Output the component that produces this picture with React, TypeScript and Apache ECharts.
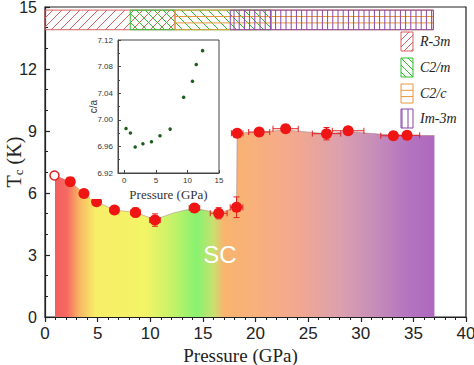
import React, { useEffect, useRef } from "react";
import * as echarts from "echarts";

// ---------------- data ----------------
const pressure = [2.4, 3.7, 4.9, 6.6, 8.6, 10.45, 14.2, 16.5, 18.2, 18.26, 20.35, 22.86, 26.75, 28.8, 33.1, 34.4];
const tc = [6.55, 5.98, 5.58, 5.18, 5.06, 4.69, 5.27, 5.02, 5.31, 8.89, 8.95, 9.11, 8.87, 9.01, 8.77, 8.79];
const pressureErr = [0.3, 0.3, 0.3, 0.4, 0.45, 0.5, 0.5, 0.8, 0.6, 0.55, 1.0, 1.2, 1.35, 1.5, 1.2, 1.2];
const tcErr = [0.1, 0.1, 0.1, 0.1, 0.22, 0.3, 0.2, 0.27, 0.5, 0.1, 0.1, 0.1, 0.3, 0.1, 0.1, 0.1];
const openPressure = [0.9];
const openTc = [6.85];

// superconducting region outline
const scEdgeP = [0.95, 2.4, 3.7, 4.9, 6.6, 8.6, 10.45, 12.3, 14.2, 16.5, 18.2, 18.25, 20.35, 22.86, 26.75, 28.8, 33.1, 34.4, 37];
const scEdgeTc = [6.85, 6.55, 5.98, 5.58, 5.18, 5.06, 4.72, 5.05, 5.27, 5.02, 5.31, 8.9, 8.95, 9.05, 8.87, 8.97, 8.8, 8.8, 8.78];

// structural phases
const phaseNames = ["R-3m", "C2/m", "C2/c", "Im-3m"];
const phaseStart = [0, 8.1, 12.35, 17.6];
const phaseEnd = [12.35, 21.5, 36.9, 36.9];

// inset c/a
const insetP = [0.27, 0.97, 1.72, 2.95, 4.3, 5.65, 7.26, 9.4, 10.8, 11.4, 12.4];
const insetCA = [6.987, 6.98, 6.959, 6.964, 6.967, 6.976, 6.986, 7.034, 7.058, 7.083, 7.104];

// ticks
const pressureTicks = [0, 5, 10, 15, 20, 25, 30, 35, 40];
const tcTicks = [0, 3, 6, 9, 12, 15];
const insetPTicks = [0, 5, 10, 15];
const insetCATicks = [6.92, 6.96, 7.0, 7.04, 7.08, 7.12];

// ---------------- styles ----------------
const SANS = "'Liberation Sans', Arial, sans-serif";
const SERIF = "'Liberation Serif', 'Times New Roman', serif";
const AX = "#222";
const BAR_TOP = 14.85;
const BAR_BOTTOM = 13.9;
const hatchStyles = [
  { kind: "fwd", color: "#d95f5f", step: 9 },
  { kind: "back", color: "#2fbf2f", step: 9 },
  { kind: "h", color: "#e8963c", step: 6.4 },
  { kind: "v", color: "#8a44aa", step: 5.2 },
];
const legendHatch = [
  { kind: "fwd", color: "#d95f5f", step: 7 },
  { kind: "back", color: "#2fbf2f", step: 7 },
  { kind: "h", color: "#e8963c", step: 6.3 },
  { kind: "v", color: "#8a44aa", step: 6 },
];
const gradStops = [
  [0.95, "#f25e5e"],
  [2.1, "#f66a62"],
  [3.3, "#f8b864"],
  [4.8, "#f8ee68"],
  [9.5, "#f3f466"],
  [12, "#c8f268"],
  [14.4, "#88f270"],
  [16, "#c8e070"],
  [17, "#f8b46e"],
  [20, "#f8b07c"],
  [24, "#f2a890"],
  [28, "#dca0ae"],
  [31, "#c890b8"],
  [34.5, "#b474c0"],
  [37, "#ae68be"],
];

function hatchLines(L: number, T: number, R: number, B: number, kind: string, step: number) {
  const out: number[][] = [];
  if (kind === "fwd") {
    for (let c = Math.ceil((L + T) / step) * step; c < R + B; c += step) {
      const xs = Math.max(L, c - B);
      const xe = Math.min(R, c - T);
      if (xe > xs) out.push([xs, c - xs, xe, c - xe]);
    }
  } else if (kind === "back") {
    for (let c = Math.ceil((L - B) / step) * step; c < R - T; c += step) {
      const xs = Math.max(L, c + T);
      const xe = Math.min(R, c + B);
      if (xe > xs) out.push([xs, xs - c, xe, xe - c]);
    }
  } else if (kind === "h") {
    for (let y = T + step; y < B - 1; y += step) out.push([L, y, R, y]);
  } else {
    for (let x = Math.ceil(L / step) * step; x < R; x += step) out.push([x, T, x, B]);
  }
  return out;
}

function buildOption() {
  const x0 = gradStops[0][0] as number;
  const x1 = gradStops[gradStops.length - 1][0] as number;
  const gradient = new echarts.graphic.LinearGradient(
    0, 0, 1, 0,
    gradStops.map((s) => ({ offset: ((s[0] as number) - x0) / (x1 - x0), color: s[1] as string }))
  );

  const legendY = [32, 58, 84, 109];
  const legendEls: any[] = [];
  phaseNames.forEach((name, i) => {
    const bx = 401, by = legendY[i], bw = 12, bh = 19;
    const hs = legendHatch[i];
    hatchLines(bx, by, bx + bw, by + bh, hs.kind, hs.step).forEach((l) => {
      legendEls.push({
        type: "line", z: 5,
        shape: { x1: l[0], y1: l[1], x2: l[2], y2: l[3] },
        style: { stroke: hs.color, lineWidth: 1 },
      });
    });
    legendEls.push({
      type: "rect", z: 5,
      shape: { x: bx, y: by, width: bw, height: bh },
      style: { fill: "none", stroke: hs.color, lineWidth: 1 },
    });
    legendEls.push({
      type: "text", z: 5, x: 420, y: by + bh / 2,
      style: {
        text: name, fill: "#222", font: `italic 14px ${SERIF}`,
        textAlign: "left", textVerticalAlign: "middle", align: "left", verticalAlign: "middle",
      },
    });
  });

  return {
    animation: false,
    backgroundColor: "#fff",
    grid: [
      { left: 45, top: 7, width: 421, height: 310, containLabel: false, outerBoundsMode: "none", show: true, borderColor: AX, borderWidth: 1.2, backgroundColor: "transparent" },
      { left: 118, top: 40, width: 101, height: 133, containLabel: false, outerBoundsMode: "none", show: true, borderColor: "#444", borderWidth: 1, backgroundColor: "transparent", z: 12 },
    ],
    xAxis: [
      {
        gridIndex: 0, type: "value",
        min: pressureTicks[0], max: pressureTicks[pressureTicks.length - 1], interval: pressureTicks[1] - pressureTicks[0],
        axisLine: { show: true, onZero: false, lineStyle: { color: AX, width: 1.2 } },
        axisTick: { show: true, inside: false, length: 5, lineStyle: { color: AX, width: 1.2 } },
        minorTick: { show: true, splitNumber: 5, length: 3, lineStyle: { color: AX, width: 1 } },
        axisLabel: { color: AX, fontSize: 17, fontFamily: SANS, margin: 8 },
        splitLine: { show: false },
        name: "Pressure (GPa)", nameLocation: "middle", nameGap: 29, nameMoveOverlap: false,
        nameTextStyle: { fontSize: 19, fontFamily: SERIF, color: AX, padding: [0, 30, 0, 0] },
      },
      {
        gridIndex: 1, type: "value", min: -1, max: 15, splitNumber: 3, z: 12,
        axisLine: { show: true, onZero: false, lineStyle: { color: "#444", width: 1 } },
        axisTick: { show: true, inside: true, length: 3, lineStyle: { color: "#444" } },
        axisLabel: {
          color: "#333", fontSize: 8, fontFamily: SANS, margin: 3,
          formatter: (v: number) => (insetPTicks.indexOf(v) >= 0 ? String(v) : ""),
        },
        splitLine: { show: false },
        name: "Pressure (GPa)", nameLocation: "middle", nameGap: 15, nameMoveOverlap: false,
        nameTextStyle: { fontSize: 13, fontFamily: SERIF, color: "#333" },
      },
    ],
    yAxis: [
      {
        gridIndex: 0, type: "value",
        min: tcTicks[0], max: tcTicks[tcTicks.length - 1], interval: tcTicks[1] - tcTicks[0],
        axisLine: { show: true, onZero: false, lineStyle: { color: AX, width: 1.2 } },
        axisTick: { show: true, inside: true, length: 5, lineStyle: { color: AX, width: 1.2 } },
        minorTick: { show: true, splitNumber: 3, length: 3, lineStyle: { color: AX, width: 1 } },
        axisLabel: { color: AX, fontSize: 16, fontFamily: SANS, margin: 8 },
        splitLine: { show: false },
        name: "{t|T}{s|c}{t| (K)}", nameLocation: "middle", nameGap: 20, nameMoveOverlap: false,
        nameTextStyle: {
          rich: {
            t: { fontSize: 20, fontFamily: SERIF, color: AX, lineHeight: 22 },
            s: { fontSize: 13, fontFamily: SERIF, color: AX, lineHeight: 6, verticalAlign: "bottom" },
          },
        },
      },
      {
        gridIndex: 1, type: "value",
        min: insetCATicks[0], max: insetCATicks[insetCATicks.length - 1], interval: 0.04, z: 12,
        axisLine: { show: true, onZero: false, lineStyle: { color: "#444", width: 1 } },
        axisTick: { show: true, inside: true, length: 3, lineStyle: { color: "#444" } },
        minorTick: { show: true, splitNumber: 2, length: 2, lineStyle: { color: "#444" } },
        axisLabel: { color: "#333", fontSize: 8, fontFamily: SANS, margin: 5, formatter: (v: number) => v.toFixed(2) },
        splitLine: { show: false },
        name: "c/a", nameLocation: "middle", nameGap: 20, nameMoveOverlap: false,
        nameTextStyle: { fontSize: 10, fontFamily: SANS, color: "#333" },
      },
    ],
    graphic: [
      { type: "rect", z: 3, shape: { x: 90, y: 34, width: 136, height: 165 }, style: { fill: "#fff" } },
      {
        type: "text", z: 4, x: 220, y: 254,
        style: {
          text: "SC", fill: "#fff", font: `24px ${SANS}`,
          textAlign: "center", textVerticalAlign: "middle", align: "center", verticalAlign: "middle",
        },
      },
      ...legendEls,
    ],
    series: [
      {
        type: "line", xAxisIndex: 0, yAxisIndex: 0, z: 1,
        data: scEdgeP.map((p, i) => [p, scEdgeTc[i]]),
        symbol: "none", smooth: false,
        lineStyle: { width: 0.7, color: "rgba(140,90,100,0.55)" },
        areaStyle: { color: gradient, opacity: 1 },
      },
      {
        type: "custom", xAxisIndex: 0, yAxisIndex: 0, z: 2,
        data: phaseStart.map((s, i) => [s, phaseEnd[i], i]),
        encode: { x: [0, 1] },
        renderItem: (params: any, api: any) => {
          const idx = api.value(2);
          const p0 = api.coord([api.value(0), BAR_TOP]);
          const p1 = api.coord([api.value(1), BAR_BOTTOM]);
          const hs = hatchStyles[idx];
          const children: any[] = hatchLines(p0[0], p0[1], p1[0], p1[1], hs.kind, hs.step).map((l) => ({
            type: "line",
            shape: { x1: l[0], y1: l[1], x2: l[2], y2: l[3] },
            style: { stroke: hs.color, lineWidth: 1 },
          }));
          children.push({
            type: "rect",
            shape: { x: p0[0], y: p0[1], width: p1[0] - p0[0], height: p1[1] - p0[1] },
            style: { fill: "none", stroke: hs.color, lineWidth: 1 },
          });
          return { type: "group", children };
        },
      },
      {
        type: "custom", xAxisIndex: 0, yAxisIndex: 0, z: 2,
        data: pressure.map((p, i) => [p, tc[i], pressureErr[i], tcErr[i]]),
        encode: { x: 0, y: 1 },
        renderItem: (params: any, api: any) => {
          const x = api.value(0), y = api.value(1), xe = api.value(2), ye = api.value(3);
          const c = api.coord([x, y]);
          const l = api.coord([x - xe, y]);
          const r = api.coord([x + xe, y]);
          const t = api.coord([x, y + ye]);
          const b = api.coord([x, y - ye]);
          const cap = 3;
          const st = { stroke: "#e02020", lineWidth: 1 };
          return {
            type: "group",
            children: [
              { type: "line", shape: { x1: l[0], y1: c[1], x2: r[0], y2: c[1] }, style: st },
              { type: "line", shape: { x1: l[0], y1: c[1] - cap, x2: l[0], y2: c[1] + cap }, style: st },
              { type: "line", shape: { x1: r[0], y1: c[1] - cap, x2: r[0], y2: c[1] + cap }, style: st },
              { type: "line", shape: { x1: c[0], y1: t[1], x2: c[0], y2: b[1] }, style: st },
              { type: "line", shape: { x1: c[0] - cap, y1: t[1], x2: c[0] + cap, y2: t[1] }, style: st },
              { type: "line", shape: { x1: c[0] - cap, y1: b[1], x2: c[0] + cap, y2: b[1] }, style: st },
            ],
          };
        },
      },
      {
        type: "scatter", xAxisIndex: 0, yAxisIndex: 0, z: 2,
        data: pressure.map((p, i) => [p, tc[i]]),
        symbolSize: 11,
        itemStyle: { color: "#f01515", opacity: 1 },
      },
      {
        type: "scatter", xAxisIndex: 0, yAxisIndex: 0, z: 2,
        data: openPressure.map((p, i) => [p, openTc[i]]),
        symbolSize: 9,
        itemStyle: { color: "#fff", borderColor: "#e02020", borderWidth: 1.5, opacity: 1 },
      },
      {
        type: "scatter", xAxisIndex: 1, yAxisIndex: 1, z: 13,
        data: insetP.map((p, i) => [p, insetCA[i]]),
        symbolSize: 3.5,
        itemStyle: { color: "#1d5e1d", opacity: 1 },
      },
    ],
  };
}

export default function App() {
  const ref = useRef<HTMLDivElement>(null);
  useEffect(() => {
    if (!ref.current) return;
    const chart = echarts.init(ref.current, undefined, { renderer: "svg" });
    chart.setOption(buildOption() as any);
    return () => chart.dispose();
  }, []);
  return <div ref={ref} style={{ position: "fixed", left: 0, top: 0, width: 474, height: 365 }} />;
}
